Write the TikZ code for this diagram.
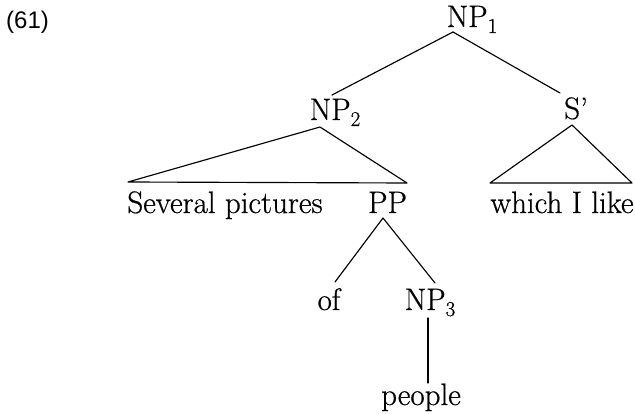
\documentclass[tikz,border=0pt]{standalone}
\usepackage{fontspec}
\newfontfamily\labelfont{Liberation Sans}
\newfontfamily\treefont{Latin Modern Roman}[FakeBold=0.6,Ligatures=TeX]
\newcommand{\tsub}[1]{{\fontsize{21}{24}\selectfont\raisebox{-6pt}{#1}}}
\begin{document}
\begin{tikzpicture}[x=1pt,y=-1pt,
  lab/.style={inner sep=0pt, anchor=base, font=\treefont\fontsize{31}{36}\selectfont},
  edge/.style={line width=1.15pt, line cap=round, line join=round}]
\useasboundingbox (0,0) rectangle (635,414);
\node[anchor=base west, inner sep=0pt, font=\labelfont\fontsize{24}{28}\selectfont] (ex) at (6,29) {(61)};
\node[lab] (np1) at (472,27) {NP\tsub{1}};
\node[lab] (np2) at (335,120) {NP\tsub{2}};
\node[lab] (sbar) at (576,119) {S’};
\node[lab] (several) at (225,213) {Several pictures};
\node[lab] (pp) at (387.5,213) {PP};
\node[lab] (which) at (562,213) {which I like};
\node[lab] (of) at (329,310) {of};
\node[lab] (np3) at (430,310) {NP\tsub{3}};
\node[lab] (people) at (421,405) {people};
% NP1 branches
\draw[edge] ([shift={(-19,5)}]np1.base) -- ([shift={(-3,-25)}]np2.base);
\draw[edge] ([shift={(-19,5)}]np1.base) -- ([shift={(-16,-26)}]sbar.base);
% NP2 triangle
\draw[edge] ([shift={(-15,7)}]np2.base) -- ([shift={(-97,-31)}]several.base)
  -- ([shift={(19.5,-30)}]pp.base) -- cycle;
% S' triangle
\draw[edge] ([shift={(-4,6)}]sbar.base) -- ([shift={(-72,-30)}]which.base)
  -- ([shift={(70,-30)}]which.base) -- cycle;
% PP branches
\draw[edge] ([shift={(-4.5,5)}]pp.base) -- ([shift={(6,-28)}]of.base);
\draw[edge] ([shift={(-4.5,5)}]pp.base) -- ([shift={(5,-27)}]np3.base);
% NP3 to people
\draw[edge] ([shift={(-2,8)}]np3.base) -- ([shift={(7,-22)}]people.base);
\end{tikzpicture}
\end{document}
